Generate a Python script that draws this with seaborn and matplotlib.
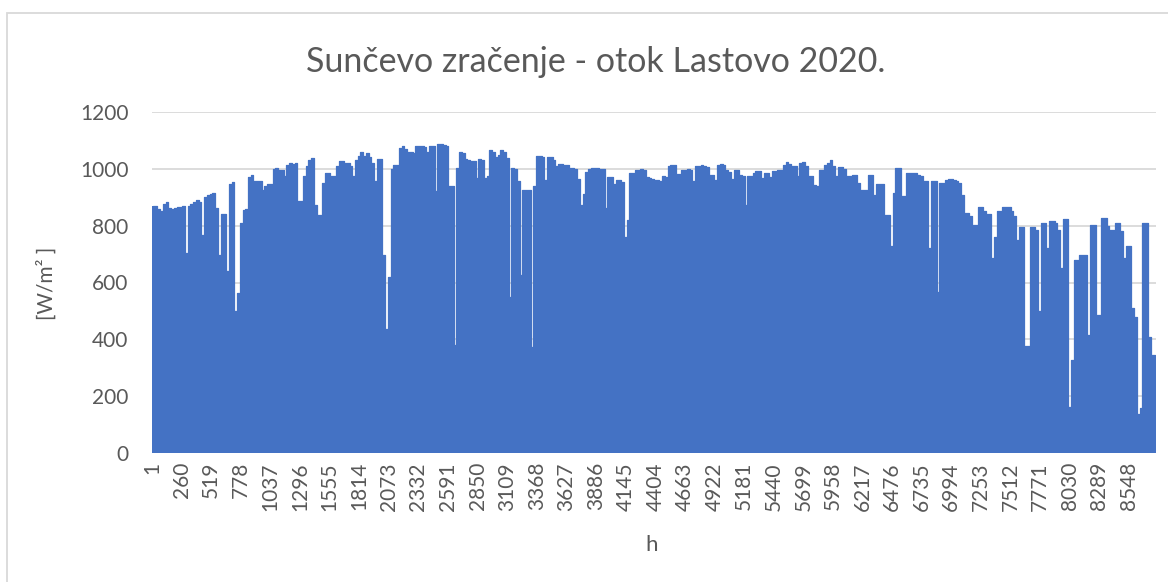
import numpy as np
import pandas as pd
import seaborn as sns
import matplotlib.pyplot as plt
from matplotlib.patches import Rectangle

# daily peak of solar irradiance [W/m2], one value per day of 2020
peaks_days_000_089 = [
    868, 870, 860, 852, 875, 885, 862, 858, 862, 864,
    864, 868, 705, 870, 878, 885, 890, 885, 768, 900,
    909, 912, 915, 862, 697, 840, 840, 642, 945, 952,
    500, 562, 809, 854, 858, 970, 979, 956, 956, 958,
    924, 940, 945, 948, 1000, 1003, 997, 997, 974, 1015,
    1021, 1018, 1021, 888, 888, 974, 1010, 1030, 1038, 874,
    836, 836, 950, 985, 985, 974, 974, 1010, 1027, 1027,
    1021, 1021, 1009, 974, 1030, 1045, 1060, 1045, 1054, 1040,
    1021, 956, 1035, 1035, 697, 438, 621, 1000, 1015, 1015,
]
peaks_days_090_179 = [
    1075, 1082, 1070, 1060, 1060, 1055, 1082, 1082, 1080, 1078,
    1060, 1082, 1082, 921, 1089, 1089, 1085, 1080, 938, 938,
    380, 1003, 1060, 1055, 1035, 1030, 1027, 1027, 968, 1035,
    1030, 968, 975, 1066, 1060, 1040, 1050, 1066, 1060, 1038,
    550, 1003, 1000, 956, 627, 927, 927, 927, 374, 938,
    1044, 1044, 1040, 960, 1042, 1042, 1030, 1011, 1017, 1017,
    1015, 1012, 1003, 1003, 1000, 964, 874, 913, 990, 1000,
    1003, 1003, 1003, 1000, 1000, 862, 971, 971, 948, 960,
    960, 955, 760, 820, 985, 985, 997, 997, 1000, 995,
]
peaks_days_180_269 = [
    970, 968, 965, 962, 960, 956, 975, 971, 1010, 1015,
    1012, 983, 983, 997, 997, 1000, 997, 956, 1011, 1011,
    1015, 1011, 1005, 980, 980, 962, 1015, 1018, 1012, 997,
    990, 964, 997, 997, 980, 975, 874, 974, 974, 985,
    991, 991, 968, 985, 985, 971, 991, 991, 997, 997,
    1015, 1023, 1018, 1009, 1009, 975, 1020, 1023, 1010, 974,
    974, 944, 940, 995, 995, 1015, 1021, 1030, 1010, 974,
    1006, 1006, 1000, 974, 974, 980, 980, 950, 927, 927,
    927, 980, 980, 909, 948, 948, 948, 839, 839, 727,
]
peaks_days_270_365 = [
    915, 1003, 1003, 906, 906, 985, 985, 985, 985, 980,
    975, 956, 956, 721, 956, 956, 565, 950, 950, 960,
    964, 964, 960, 956, 950, 909, 844, 844, 833, 803,
    803, 866, 866, 850, 842, 842, 686, 760, 850, 850,
    866, 866, 866, 850, 833, 748, 795, 795, 376, 376,
    797, 797, 786, 499, 809, 809, 721, 818, 818, 810,
    786, 650, 823, 823, 163, 327, 680, 680, 697, 697,
    697, 415, 803, 803, 486, 486, 827, 827, 800, 786,
    786, 811, 811, 780, 686, 729, 729, 509, 480, 139,
    157, 811, 811, 409, 345, 345,
]

hour_ticks = list(range(1, 8785, 259))   # 1, 260, 519 ... 8548
y_ticks = [0, 200, 400, 600, 800, 1000, 1200]

BLUE = '#4472C4'
GRID = '#D9D9D9'
TEXT = '#595959'
W, H = 1168, 582

peaks = peaks_days_000_089 + peaks_days_090_179 + peaks_days_180_269 + peaks_days_270_365
df = pd.DataFrame({'day': np.arange(len(peaks)), 'peak': peaks})
df['hour'] = df['day'] * 24 + 12.5   # middle of each day on the hour axis

sns.set_style('white')
plt.rcParams['font.family'] = ['Lato', 'DejaVu Sans']

fig = plt.figure(figsize=(W / 100, H / 100), dpi=100)
ax = fig.add_axes([152 / W, 1 - 453 / H, (1156 - 152) / W, (453 - 112) / H])

sns.barplot(data=df, x='hour', y='peak', native_scale=True, width=1.0,
            color=BLUE, saturation=1, linewidth=0, errorbar=None, ax=ax)
# outline on top, like the heavy line of the original chart
sns.lineplot(data=df, x='hour', y='peak', estimator=None, color=BLUE,
             linewidth=0.9, drawstyle='steps-mid', solid_joinstyle='round',
             solid_capstyle='round', ax=ax)

ax.set_xlim(0.5, 8784.5)
ax.set_ylim(0, 1200)
ax.set_yticks(y_ticks)
ax.set_xticks(hour_ticks)
ax.set_xticklabels([str(h) for h in hour_ticks], rotation=90)
ax.tick_params(axis='x', length=0, pad=6.5, labelsize=15, labelcolor=TEXT)
ax.tick_params(axis='y', length=0, pad=17, labelsize=15, labelcolor=TEXT)
ax.yaxis.grid(True, color=GRID, linewidth=1.3)
ax.set_axisbelow(True)
ax.set_xlabel('')
ax.set_ylabel('')
sns.despine(ax=ax, left=True, bottom=True)

fig.text(596 / W, 1 - 62 / H, 'Sunčevo zračenje - otok Lastovo 2020.',
         ha='center', va='center', fontsize=24.5, color=TEXT)
fig.text(47 / W, 1 - 283 / H, '[W/m² ]', rotation=90,
         ha='center', va='center', fontsize=15, color=TEXT)
fig.text(652 / W, 1 - 545 / H, 'h', ha='center', va='center',
         fontsize=16, color=TEXT)

# chart area border, cut off at the right and bottom like the screenshot
fig.add_artist(Rectangle((7 / W, -0.5), 2, 1.5 - 13 / H, transform=fig.transFigure,
                         fill=False, edgecolor=GRID, linewidth=1.3))

fig.savefig('out.png', dpi=100)
